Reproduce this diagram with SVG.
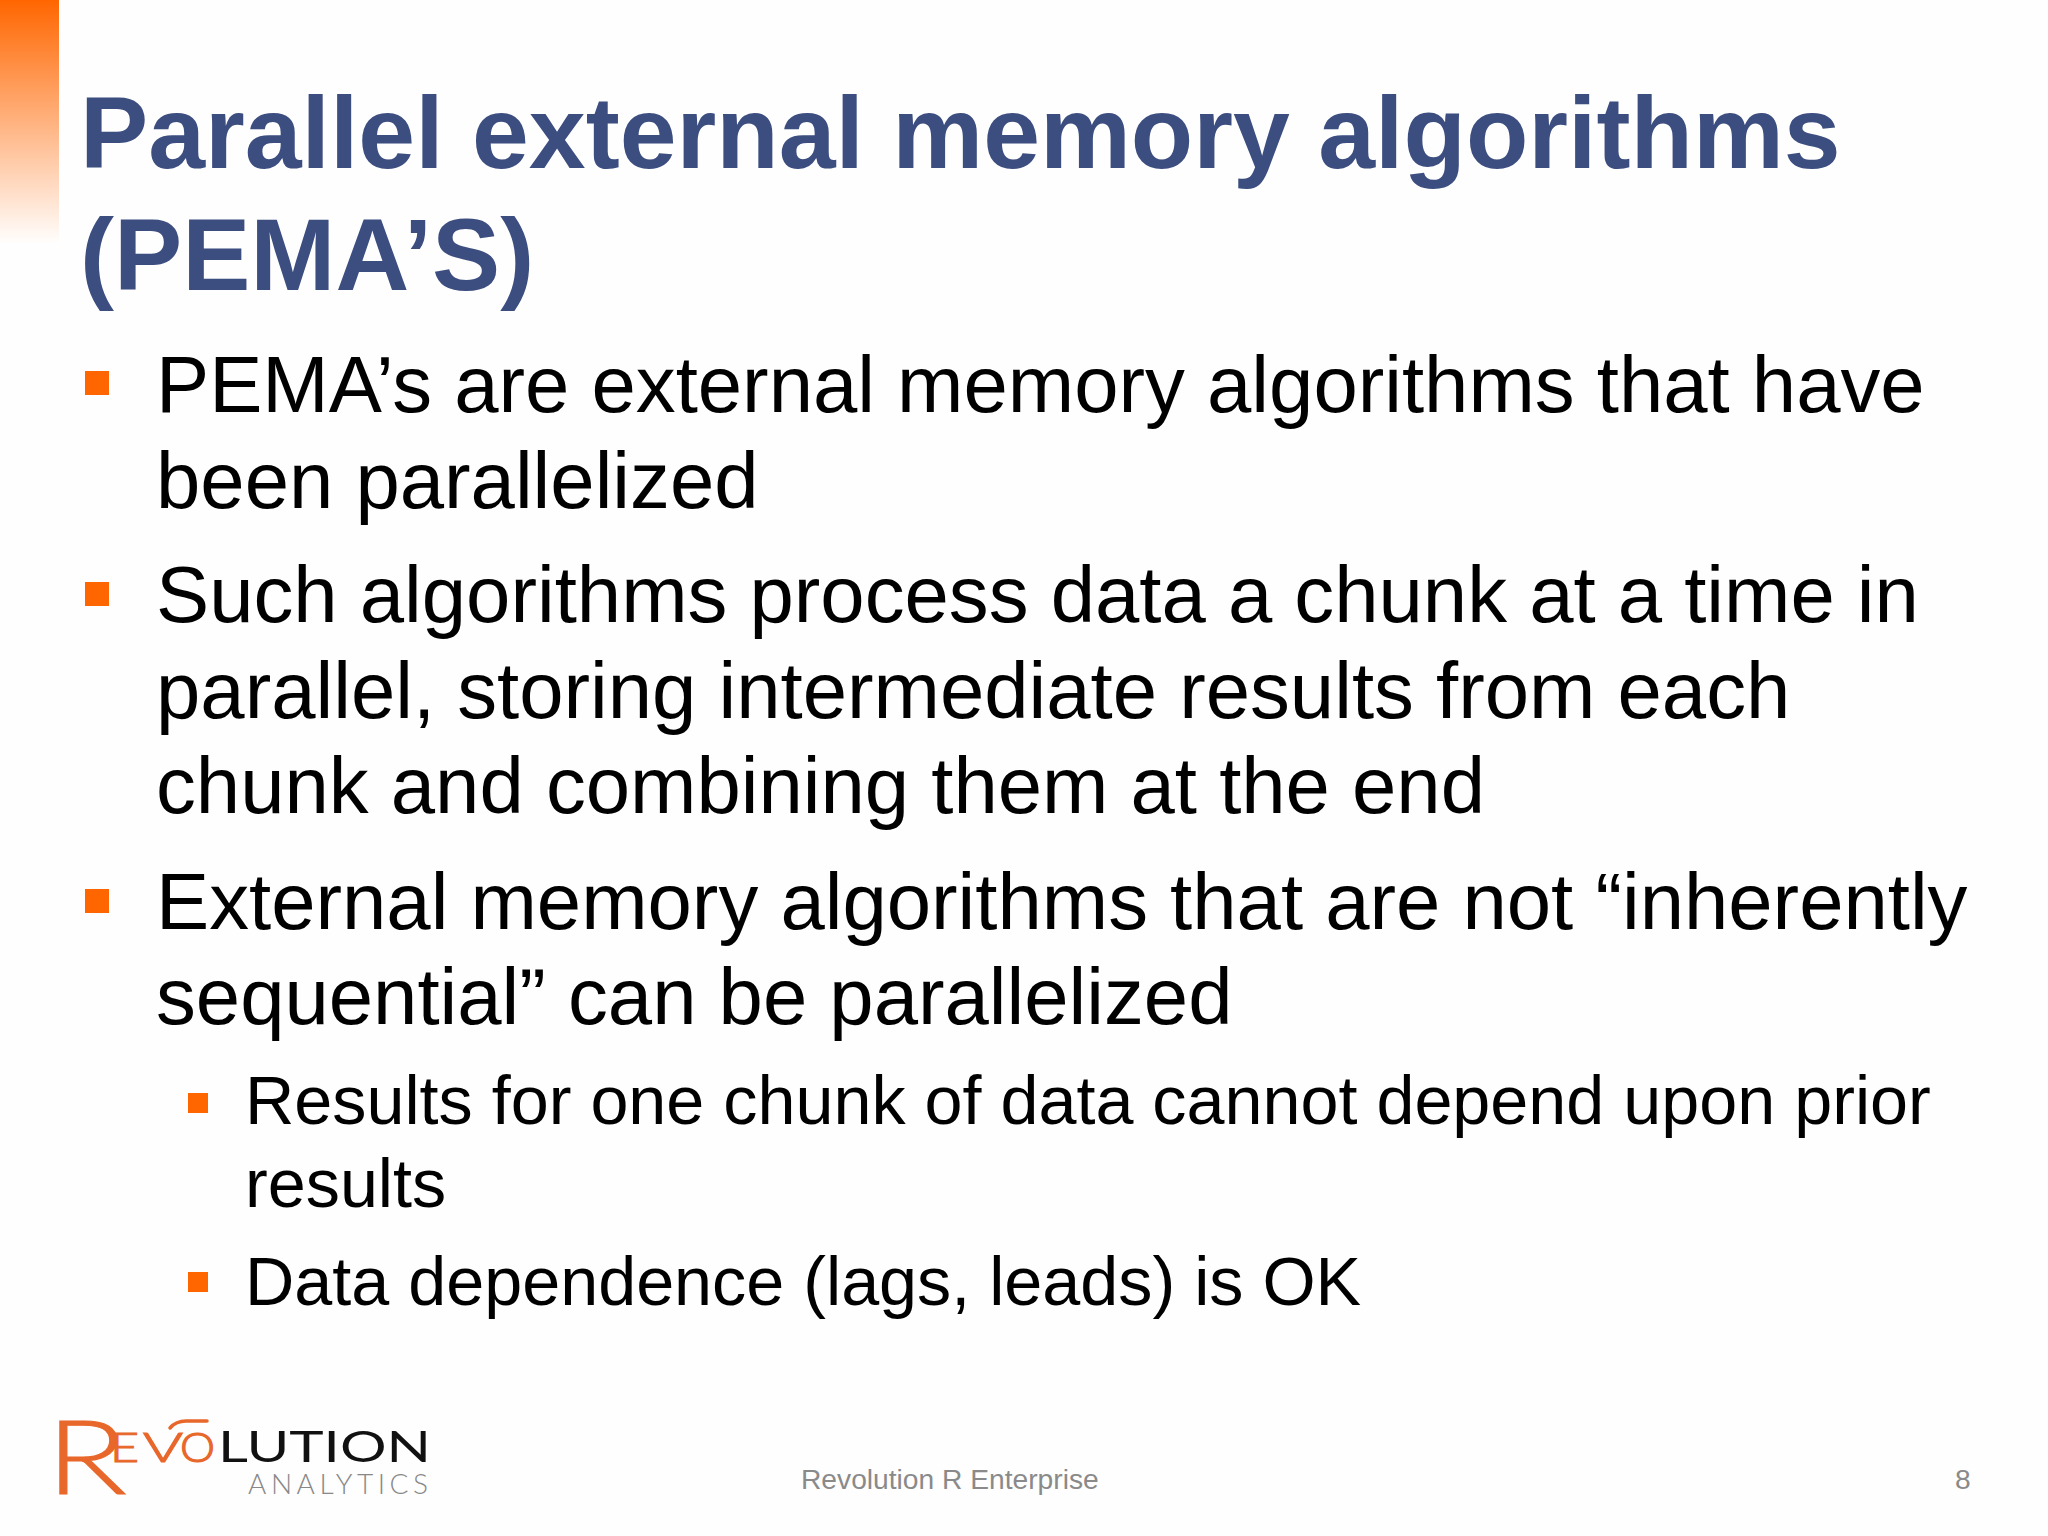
<svg xmlns="http://www.w3.org/2000/svg" width="2048" height="1536" viewBox="0 0 2048 1536">
<style>
text{font-family:"Liberation Sans",Arial,sans-serif}
.t{font-size:102.2px;font-weight:700;fill:#3c4d80}
.b{font-size:79.7px;fill:#000}
.s{font-size:68.3px;fill:#000}
.f{font-size:28.2px;fill:#8a8a8a}
.o{fill:#ff6600}
.l{font-family:Lato,"Liberation Sans",sans-serif}
.r{fill:#e8672a;stroke:#e8672a;font-weight:300}
</style>
<defs><linearGradient id="g" x1="0" y1="0" x2="0" y2="1"><stop offset="0" stop-color="#ff6600"/><stop offset="1" stop-color="#ffffff"/></linearGradient></defs>
<rect width="2048" height="1536" fill="#fefefe"/>
<rect id="bar" width="59" height="245" fill="url(#g)"/>
<g id="title"><text class="t" x="80" y="168">Parallel external memory algorithms</text><text class="t" x="80" y="290">(PEMA’S)</text></g>
<g id="bullets">
<rect class="o" x="85" y="371" width="24" height="24"/>
<rect class="o" x="85" y="582" width="24" height="24"/>
<rect class="o" x="85" y="889" width="24" height="24"/>
<rect class="o" x="188" y="1093" width="20" height="20"/>
<rect class="o" x="188" y="1272" width="20" height="20"/>
</g>
<g id="body">
<text class="b" x="156" y="412">PEMA’s are external memory algorithms that have</text>
<text class="b" x="156" y="508">been parallelized</text>
<text class="b" x="156" y="622">Such algorithms process data a chunk at a time in</text>
<text class="b" x="156" y="718">parallel, storing intermediate results from each</text>
<text class="b" x="156" y="813">chunk and combining them at the end</text>
<text class="b" x="156" y="929">External memory algorithms that are not “inherently</text>
<text class="b" x="156" y="1024">sequential” can be parallelized</text>
<text class="s" x="245" y="1124">Results for one chunk of data cannot depend upon prior</text>
<text class="s" x="245" y="1207">results</text>
<text class="s" x="245" y="1305">Data dependence (lags, leads) is OK</text>
</g>
<g id="footer">
<text class="f" x="801" y="1489">Revolution R Enterprise</text>
<text class="f" x="1955" y="1489" fill="#8a8a8a">8</text>
</g>
<g id="logo">
<text class="l r" x="46" y="1494" font-size="103" stroke-width="1" textLength="81" lengthAdjust="spacingAndGlyphs">R</text>
<text class="l r" x="110" y="1462" font-size="42" stroke-width="1.2" textLength="29" lengthAdjust="spacingAndGlyphs">E</text>
<text class="l r" x="143" y="1462" font-size="42" stroke-width="1.2" textLength="40" lengthAdjust="spacingAndGlyphs">V</text>
<text class="l r" x="180" y="1462" font-size="42" stroke-width="1.2" textLength="35" lengthAdjust="spacingAndGlyphs">O</text>
<path d="M170 1428Q176 1421 186 1421H207" fill="none" stroke="#e8672a" stroke-width="3.5" stroke-linecap="round"/>
<text class="l" x="218" y="1462" font-size="42" font-weight="400" textLength="213" lengthAdjust="spacingAndGlyphs" fill="#111">LUTION</text>
<text class="l" x="248" y="1494" font-size="28" font-weight="300" textLength="180" fill="#888">ANALYTICS</text>
</g>
</svg>
